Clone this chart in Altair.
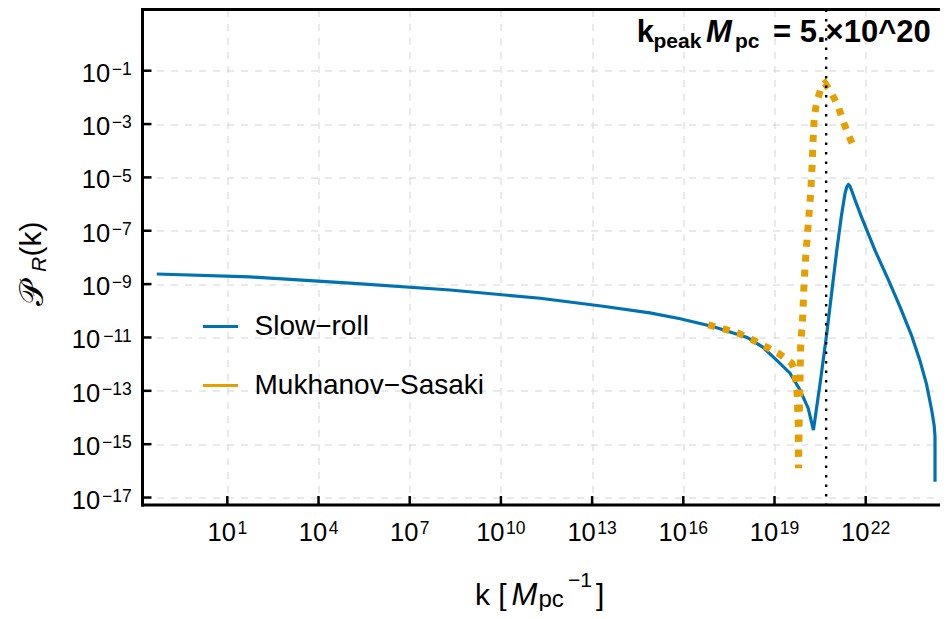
import altair as alt
import pandas as pd

# ---- data (log10 values) ----
sr_logk = [-1.32, 1.75, 5.04, 8.33, 11.29, 13.3, 14.9, 15.9, 17.0, 18.1, 18.6, 19.07, 19.51, 19.84,
           20.11, 20.28, 20.5, 20.72, 21.05, 21.2, 21.32, 21.38, 21.43, 21.48, 21.55, 21.65, 21.85,
           22.3, 22.75, 23.13, 23.5, 23.78, 24.0, 24.17, 24.25, 24.28, 24.28]
sr_logp = [-8.62, -8.73, -8.96, -9.22, -9.53, -9.82, -10.08, -10.3, -10.6, -11.0, -11.35, -11.85,
           -12.34, -12.97, -13.66, -14.47, -12.72, -10.84, -7.72, -6.45, -5.6, -5.35, -5.27, -5.32,
           -5.53, -5.85, -6.45, -7.72, -8.85, -9.85, -10.9, -11.85, -12.75, -13.72, -14.28, -14.72,
           -16.41]

ms_logk = [16.82, 17.32, 17.81, 18.25, 18.72, 19.16, 19.57, 19.66, 19.74, 19.78, 19.79, 19.81, 19.84,
           19.86, 19.93, 19.97, 20.03, 20.19, 20.24, 20.28, 20.31, 20.39, 20.55, 20.66, 20.88, 21.1,
           21.26, 21.45, 21.65]
ms_logp = [-10.53, -10.68, -10.84, -11.07, -11.35, -11.62, -11.97, -12.25, -13.0, -14.2, -15.9, -14.2,
           -12.6, -11.35, -10.16, -9.03, -7.91, -5.6, -4.47, -3.29, -2.72, -2.16, -1.6, -1.47, -1.85,
           -2.35, -2.91, -3.45, -3.97]

k_peak = 5e20
series_names = ["Slow\u2212roll", "Mukhanov\u2212Sasaki"]
series_colors = ["#0072B2", "#E69F00"]

x_tick_exps = [1, 4, 7, 10, 13, 16, 19, 22]
y_tick_exps = [-17, -15, -13, -11, -9, -7, -5, -3, -1]
x_domain_exps = [-1.79, 24.444]
y_domain_exps = [-17.28, 1.294]

W, H = 797.5, 495.5
FONT = "Liberation Sans"
MAIN_FS, SUP_FS = 25.5, 17.5


def exp_str(e):
    return str(e).replace("-", "\u2212")


sr = pd.DataFrame({"k": [10 ** v for v in sr_logk], "p": [10 ** v for v in sr_logp],
                   "series": series_names[0], "o": list(range(len(sr_logk)))})
ms = pd.DataFrame({"k": [10 ** v for v in ms_logk], "p": [10 ** v for v in ms_logp],
                   "series": series_names[1], "o": list(range(len(ms_logk)))})

xscale = alt.Scale(type="log", domain=[10 ** x_domain_exps[0], 10 ** x_domain_exps[1]], nice=False)
yscale = alt.Scale(type="log", domain=[10 ** y_domain_exps[0], 10 ** y_domain_exps[1]], nice=False)
cscale = alt.Scale(domain=series_names, range=series_colors)

grid_kw = dict(grid=True, gridDash=[7, 7], gridColor="#d4d4d4", gridWidth=1,
               ticks=False, domain=False, labels=False, title=None)
xaxis = alt.Axis(values=[10 ** e for e in x_tick_exps], **grid_kw)
yaxis = alt.Axis(values=[10 ** e for e in y_tick_exps], **grid_kw)

legend = alt.Legend(title=None, orient="none", legendX=59, legendY=298, symbolType="stroke",
                    symbolSize=1225, symbolStrokeWidth=3, symbolDash=[1, 0], labelFont=FONT,
                    labelFontSize=28, labelColor="black", labelOffset=15, rowPadding=26,
                    padding=0, labelLimit=400)

blue = alt.Chart(sr).mark_line(strokeWidth=3.2, clip=True).encode(
    x=alt.X("k:Q", scale=xscale, axis=xaxis),
    y=alt.Y("p:Q", scale=yscale, axis=yaxis),
    order="o:Q",
    color=alt.Color("series:N", scale=cscale, legend=legend),
)
orange = alt.Chart(ms).mark_line(strokeWidth=7, strokeDash=[7, 8], strokeCap="butt", clip=True).encode(
    x=alt.X("k:Q", scale=xscale),
    y=alt.Y("p:Q", scale=yscale),
    order="o:Q",
    color=alt.Color("series:N", scale=cscale, legend=legend),
)

vline = alt.Chart(pd.DataFrame({"k": [k_peak]})).mark_rule(
    color="black", strokeWidth=2.4, strokeDash=[2.5, 7]).encode(
    x=alt.X("k:Q", scale=xscale), y=alt.value(0), y2=alt.value(H))

xticks = alt.Chart(pd.DataFrame({"k": [10 ** e for e in x_tick_exps]})).mark_rule(
    color="black", strokeWidth=2.5).encode(
    x=alt.X("k:Q", scale=xscale), y=alt.value(H), y2=alt.value(H - 9))
yticks = alt.Chart(pd.DataFrame({"p": [10 ** e for e in y_tick_exps]})).mark_rule(
    color="black", strokeWidth=2.5).encode(
    y=alt.Y("p:Q", scale=yscale), x=alt.value(0), x2=alt.value(9))

one = pd.DataFrame({"a": [0]})
frame = [
    alt.Chart(one).mark_rule(color="black", strokeWidth=3).encode(
        x=alt.value(0), y=alt.value(-1.5), y2=alt.value(H + 1.5)),
    alt.Chart(one).mark_rule(color="black", strokeWidth=3).encode(
        x=alt.value(-1.5), x2=alt.value(W), y=alt.value(0)),
    alt.Chart(one).mark_rule(color="black", strokeWidth=3).encode(
        x=alt.value(-1.5), x2=alt.value(W), y=alt.value(H)),
]

# ---- tick labels: "10" plus a raised exponent, grouped by exponent length ----
tick_labels = []
for group in ([e for e in x_tick_exps if len(str(e)) == 1], [e for e in x_tick_exps if len(str(e)) == 2]):
    if not group:
        continue
    supw = 11.0 if len(str(group[0])) == 1 else 21.0
    total = 28.3 + supw
    df = pd.DataFrame({"k": [10 ** e for e in group], "e": [exp_str(e) for e in group]})
    tick_labels.append(alt.Chart(df).mark_text(
        font=FONT, fontSize=MAIN_FS, align="right", baseline="alphabetic", color="black",
        dx=-total / 2 + 28.3).encode(
        x=alt.X("k:Q", scale=xscale), y=alt.value(H + 36), text=alt.value("10")))
    tick_labels.append(alt.Chart(df).mark_text(
        font=FONT, fontSize=SUP_FS, align="left", baseline="alphabetic", color="black",
        dx=-total / 2 + 28.3 + 1.5).encode(
        x=alt.X("k:Q", scale=xscale), y=alt.value(H + 29), text="e:N"))
for group in ([e for e in y_tick_exps if len(str(e)) == 2], [e for e in y_tick_exps if len(str(e)) == 3]):
    supw = 20.0 if len(str(group[0])) == 2 else 30.0
    df = pd.DataFrame({"p": [10 ** e for e in group], "e": [exp_str(e) for e in group]})
    tick_labels.append(alt.Chart(df).mark_text(
        font=FONT, fontSize=SUP_FS, align="right", baseline="alphabetic", color="black",
        dy=4.3).encode(
        y=alt.Y("p:Q", scale=yscale), x=alt.value(-10.8), text="e:N"))
    tick_labels.append(alt.Chart(df).mark_text(
        font=FONT, fontSize=MAIN_FS, align="right", baseline="alphabetic", color="black",
        dy=11).encode(
        y=alt.Y("p:Q", scale=yscale), x=alt.value(-10.8 - supw - 1.5), text=alt.value("10")))

# rich-text pieces: (text, x, y, size, style, weight, angle)
texts = [
    # annotation
    ("k", 494.2, 32.2, 31, "normal", "bold", 0),
    ("peak", 511.0, 38.0, 21, "normal", "bold", 0),
    ("M", 563.5, 32.2, 31, "italic", "bold", 0),
    ("pc", 592.5, 38.0, 21, "normal", "bold", 0),
    ("= 5.×10^20", 630.5, 32.2, 31, "normal", "bold", 0),
    # x title
    ("k [", 332.5, 595.5, 30, "normal", "normal", 0),
    ("M", 369.0, 595.5, 31, "italic", "normal", 0),
    ("pc", 396.0, 597.5, 24, "normal", "normal", 0),
    ("\u22121", 425.5, 577.0, 21, "normal", "normal", 0),
    ("]", 453.5, 595.5, 30, "normal", "normal", 0),
    # y title (rotated)
    ("𝒫", -99.5, 296.5, 34, "normal", "normal", 270),
    ("R", -97.0, 262.5, 21, "italic", "normal", 270),
    ("(k)", -102.0, 247.0, 30, "normal", "normal", 270),
]

text_layers = []
for t, x, y, size, style, weight, ang in texts:
    text_layers.append(
        alt.Chart(pd.DataFrame({"t": [t]})).mark_text(
            font=FONT, fontSize=size, fontStyle=style, fontWeight=weight, angle=ang,
            align="left", baseline="alphabetic", color="black").encode(
            text="t:N", x=alt.value(x), y=alt.value(y))
    )

layers = [blue, orange, vline, xticks, yticks] + frame + tick_labels + text_layers

chart = alt.layer(*layers).properties(
    width=W, height=H,
    padding={"left": 134.5, "top": 1.5, "right": 0, "bottom": 106},
    autosize=alt.AutoSizeParams(type="none"),
).configure_view(stroke=None)

chart.save("out.html", embed_options={"renderer": "svg", "actions": False})
